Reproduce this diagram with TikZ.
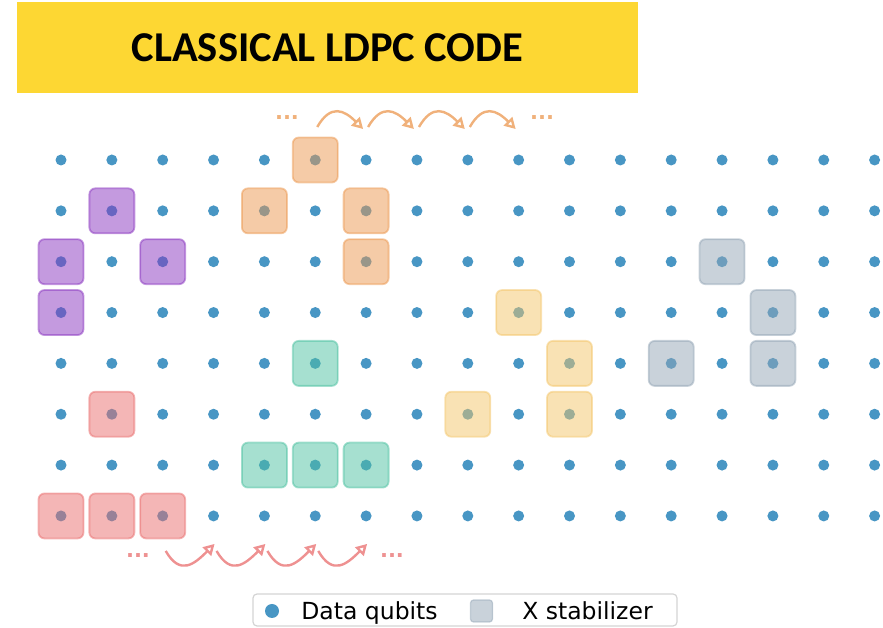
\documentclass[tikz,border=0pt]{standalone}
\usepackage{fontspec}
\setmainfont{DejaVu Sans}
\newfontfamily\titlefont{Carlito}
\usetikzlibrary{arrows.meta,positioning}
\definecolor{Qubit}{HTML}{4896C4}
\definecolor{Banner}{HTML}{FDD733}
\definecolor{Frame}{HTML}{D4D4D4}
\definecolor{Purple}{HTML}{8935BF}
\definecolor{Orange}{HTML}{EB974F}
\definecolor{Sand}{HTML}{F3C569}
\definecolor{Mint}{HTML}{4DC1A1}
\definecolor{Coral}{HTML}{E96D6D}
\definecolor{Slate}{HTML}{93A5B5}
\tikzset{
  qubit/.style={circle,fill=Qubit,inner sep=0pt,minimum size=11pt},
  stab/.style={draw,rounded corners=6pt,minimum size=45pt,inner sep=0pt,line width=1.8pt,fill opacity=.5,draw opacity=.5},
  stabpurple/.style={stab,draw=Purple,fill=Purple},
  staborange/.style={stab,draw=Orange,fill=Orange},
  stabsand/.style={stab,draw=Sand,fill=Sand},
  stabmint/.style={stab,draw=Mint,fill=Mint},
  stabcoral/.style={stab,draw=Coral,fill=Coral},
  stabslate/.style={stab,draw=Slate,fill=Slate},
  hop/.style={-{Triangle[open,length=11pt,width=12pt]},line width=2.4pt},
  hoporange/.style={hop,draw=Orange!75},
  hopcoral/.style={hop,draw=Coral!75},
  more/.style={font=\bfseries\fontsize{21}{21}\selectfont,inner sep=0pt},
  legendtext/.style={font=\fontsize{23.5}{23.5}\selectfont,inner sep=0pt,text height=17pt,text depth=0pt}
}

\begin{document}
\begin{tikzpicture}[x=1pt,y=1pt]
\useasboundingbox (0,0) rectangle (883,628);
\node[fill=Banner,minimum width=621pt,minimum height=91pt,font=\titlefont\bfseries\fontsize{42.5}{42.5}\selectfont] (title) at (327.5,580.5) {CLASSICAL LDPC CODE};

\foreach \c in {0,...,16}
  \foreach \r in {0,...,7}
    \node[qubit] (q-\c-\r) at (61+50.85*\c,468-50.85*\r) {};

\foreach \c/\r in {5/0,4/1,6/1,6/2} \node[staborange] (o-\c-\r) at (q-\c-\r) {};
\foreach \c/\r in {1/1,0/2,2/2,0/3} \node[stabpurple] (p-\c-\r) at (q-\c-\r) {};
\foreach \c/\r in {9/3,10/4,8/5,10/5} \node[stabsand] (y-\c-\r) at (q-\c-\r) {};
\foreach \c/\r in {13/2,14/3,12/4,14/4} \node[stabslate] (g-\c-\r) at (q-\c-\r) {};
\foreach \c/\r in {5/4,4/6,5/6,6/6} \node[stabmint] (m-\c-\r) at (q-\c-\r) {};
\foreach \c/\r in {1/5,0/7,1/7,2/7} \node[stabcoral] (r-\c-\r) at (q-\c-\r) {};

\foreach \c in {5,...,8}{
  \pgfmathtruncatemacro\d{\c+1}
  \coordinate (ta-\c) at ([xshift=2pt,yshift=33pt]q-\c-0);
  \coordinate (tb-\c) at ([xshift=-3pt,yshift=31pt]q-\d-0);
  \draw[hoporange] (ta-\c) to[out=60,in=135,looseness=1.5] (tb-\c);
}
\node[more,text=Orange!75] (tl) at (287,510) {...};
\node[more,text=Orange!75] (tr) at (542,510) {...};

\foreach \c in {2,...,5}{
  \pgfmathtruncatemacro\d{\c+1}
  \coordinate (ba-\c) at ([xshift=3pt,yshift=-35pt]q-\c-7);
  \coordinate (bb-\c) at ([xshift=1pt,yshift=-28pt]q-\d-7);
  \draw[hopcoral] (ba-\c) to[out=-60,in=-135,looseness=1.5] (bb-\c);
}
\node[more,text=Coral!75] (bl) at (138,72) {...};
\node[more,text=Coral!75] (br) at (392,72) {...};

\node[draw=Frame,rounded corners=4pt,line width=1.2pt,minimum width=424pt,minimum height=32pt] (legend) at (465,18) {};
\node[qubit,minimum size=14pt] (lq) at (272,17) {};
\node[legendtext,right=22pt of lq] (lqt) {Data qubits};
\node[stabslate,minimum size=22pt,rounded corners=3pt,line width=1.2pt,right=32pt of lqt] (ls) {};
\node[legendtext,right=29pt of ls] (lst) {X stabilizer};
\end{tikzpicture}
\end{document}
